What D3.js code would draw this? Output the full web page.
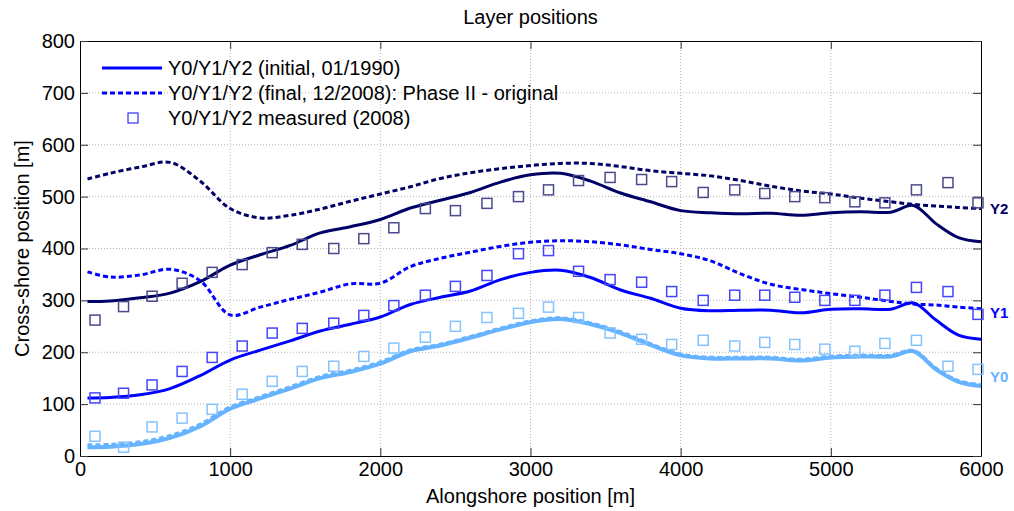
<script src="https://d3js.org/d3.v7.min.js"></script>
<style>
  body { margin: 0; background: #fff; }
  text { font-family: "Liberation Sans", Arial, sans-serif; }
</style>
<div id="chart"></div>
<script>

// alongshore positions of the model output [m]
var xs = [50, 200, 400, 600, 800, 1000, 1200, 1400, 1600, 1800, 2000, 2200, 2400, 2600, 2800, 3000,
          3200, 3400, 3600, 3800, 4000, 4200, 4400, 4600, 4800, 5000, 5200, 5400, 5550, 5700, 5850, 6000];

var y2Initial = [298, 299, 305, 314, 336, 368, 388, 406, 430, 442, 456, 478, 493, 508, 528, 542,
                 545, 530, 507, 490, 473, 469, 467, 468, 464, 469, 471, 470, 483, 448, 421, 413];
var y2Final   = [534, 545, 557, 566, 530, 477, 459, 464, 476, 491, 505, 519, 535, 546, 554, 560,
                 564, 564, 558, 550, 545, 540, 531, 520, 511, 505, 497, 490, 485, 482, 479, 477];
var y1Initial = [112, 113, 118, 130, 155, 185, 204, 222, 241, 254, 268, 292, 306, 318, 340, 354,
                 358, 344, 320, 304, 285, 280, 281, 281, 276, 283, 284, 283, 295, 262, 233, 225];
var y1Final   = [355, 345, 349, 360, 338, 272, 287, 302, 316, 332, 333, 365, 381, 393, 404, 412,
                 415, 413, 407, 398, 390, 376, 351, 331, 321, 313, 306, 298, 293, 291, 287, 284];
var y0Initial = [17, 18, 23, 35, 57, 91, 111, 130, 150, 162, 178, 202, 213, 228, 244, 258,
                 264, 254, 237, 214, 194, 188, 188, 188, 184, 190, 192, 192, 202, 167, 143, 135];
var y0Final   = [21, 22, 27, 39, 61, 94, 114, 133, 153, 165, 181, 204, 215, 230, 246, 260,
                 266, 256, 239, 216, 196, 190, 190, 190, 186, 192, 194, 194, 203, 169, 145, 137];

// measured positions (2008)
var mx = [100, 290, 480, 680, 880, 1080, 1280, 1480, 1690, 1890, 2090, 2300, 2500, 2710, 2920,
          3120, 3320, 3530, 3740, 3940, 4150, 4360, 4560, 4760, 4960, 5160, 5360, 5570, 5780, 5980];
var y2Measured = [262, 288, 308, 333, 354, 369, 392, 408, 400, 419, 440, 477, 473, 487, 500,
                  513, 531, 537, 533, 529, 508, 513, 506, 500, 498, 490, 488, 513, 527, 488];
var y1Measured = [112, 121, 137, 163, 190, 212, 237, 246, 256, 271, 290, 310, 327, 348, 390,
                  396, 356, 340, 335, 317, 300, 310, 310, 306, 300, 300, 310, 325, 317, 273];
var y0Measured = [38, 17, 56, 73, 90, 119, 144, 163, 173, 192, 208, 229, 250, 267, 275,
                  287, 267, 237, 225, 215, 223, 212, 219, 215, 206, 202, 217, 223, 173, 167];

var xTicks = [0, 1000, 2000, 3000, 4000, 5000, 6000];
var yTicks = [0, 100, 200, 300, 400, 500, 600, 700, 800];

var layerNames = ["Y0", "Y1", "Y2"];
var labelY = [152, 277, 477];   // where the layer names sit on the right
var legendLabels = ["Y0/Y1/Y2 (initial, 01/1990)",
                    "Y0/Y1/Y2 (final, 12/2008): Phase II - original",
                    "Y0/Y1/Y2 measured (2008)"];

var lineColors = ["#66b3ff", "#0000ff", "#000066"];
var markColors = ["#85c3ff", "#4545ff", "#4a4a8c"];

var margin = {top: 41, right: 33, bottom: 55, left: 80},
    width = 1014 - margin.left - margin.right,
    height = 511 - margin.top - margin.bottom;

var svg = d3.select("#chart")
  .append("svg")
    .attr("width", 1014)
    .attr("height", 511)
  .append("g")
    .attr("transform", "translate(" + margin.left + "," + margin.top + ")");

var x = d3.scaleLinear().domain([0, 6000]).range([0, width]);
var y = d3.scaleLinear().domain([0, 800]).range([height, 0]);

// grid
svg.append("g")
  .selectAll("line")
  .data(xTicks.slice(1, -1))
  .enter().append("line")
    .attr("x1", function(d) { return x(d); })
    .attr("x2", function(d) { return x(d); })
    .attr("y1", 0).attr("y2", height)
    .attr("stroke", "#b4b4b4")
    .attr("stroke-dasharray", "1,2");

svg.append("g")
  .selectAll("line")
  .data(yTicks.slice(1, -1))
  .enter().append("line")
    .attr("y1", function(d) { return y(d); })
    .attr("y2", function(d) { return y(d); })
    .attr("x1", 0).attr("x2", width)
    .attr("stroke", "#b4b4b4")
    .attr("stroke-dasharray", "1,2");

// axes, ticks inward on all four sides
var xAxis = svg.append("g")
  .attr("transform", "translate(0," + height + ")")
  .call(d3.axisBottom(x).tickValues(xTicks).tickFormat(d3.format("d"))
    .tickSizeInner(-8).tickSizeOuter(0).tickPadding(6));
var xTop = svg.append("g")
  .call(d3.axisTop(x).tickValues(xTicks).tickSizeInner(-8).tickSizeOuter(0).tickFormat(""));
var yAxis = svg.append("g")
  .call(d3.axisLeft(y).tickValues(yTicks).tickSizeInner(-8).tickSizeOuter(0).tickPadding(5));
var yRight = svg.append("g")
  .attr("transform", "translate(" + width + ",0)")
  .call(d3.axisRight(y).tickValues(yTicks).tickSizeInner(-8).tickSizeOuter(0).tickFormat(""));

[xAxis, xTop, yAxis, yRight].forEach(function(a) {
  a.select(".domain").attr("stroke", "#000");
  a.selectAll(".tick line").attr("stroke", "#333");
  a.selectAll("text")
    .style("font-size", "20px")
    .attr("fill", "#000");
});

// titles
svg.append("text")
  .attr("x", width / 2)
  .attr("y", -17)
  .attr("text-anchor", "middle")
  .style("font-size", "20px")
  .text("Layer positions");

svg.append("text")
  .attr("x", width / 2)
  .attr("y", height + 47)
  .attr("text-anchor", "middle")
  .style("font-size", "20px")
  .text("Alongshore position [m]");

svg.append("text")
  .attr("transform", "rotate(-90)")
  .attr("x", -height / 2)
  .attr("y", -51)
  .attr("text-anchor", "middle")
  .style("font-size", "20px")
  .text("Cross-shore position [m]");

// curves
var line = d3.line()
  .x(function(d) { return x(d[0]); })
  .y(function(d) { return y(d[1]); })
  .curve(d3.curveCatmullRom.alpha(0.5));

var initial = [y0Initial, y1Initial, y2Initial];
var finals = [y0Final, y1Final, y2Final];
var measured = [y0Measured, y1Measured, y2Measured];

initial.forEach(function(vals, i) {
  svg.append("path")
    .datum(xs.map(function(d, j) { return [d, vals[j]]; }))
    .attr("fill", "none")
    .attr("stroke", lineColors[i])
    .attr("stroke-width", i == 0 ? 4 : 3)
    .attr("d", line);
});

finals.forEach(function(vals, i) {
  svg.append("path")
    .datum(xs.map(function(d, j) { return [d, vals[j]]; }))
    .attr("fill", "none")
    .attr("stroke", lineColors[i])
    .attr("stroke-width", i == 0 ? 3.5 : 3)
    .attr("stroke-dasharray", "5,3")
    .attr("d", line);
});

measured.forEach(function(vals, i) {
  svg.append("g")
    .selectAll("rect")
    .data(mx.map(function(d, j) { return [d, vals[j]]; }))
    .enter().append("rect")
      .attr("x", function(d) { return x(d[0]) - 5; })
      .attr("y", function(d) { return y(d[1]) - 5; })
      .attr("width", 10)
      .attr("height", 10)
      .attr("fill", "none")
      .attr("stroke", markColors[i])
      .attr("stroke-width", 1.5);
});

// layer names at the right edge
svg.append("g")
  .selectAll("text")
  .data(layerNames)
  .enter().append("text")
    .attr("x", width + 9)
    .attr("y", function(d, i) { return y(labelY[i]); })
    .attr("dy", "0.35em")
    .attr("fill", function(d, i) { return lineColors[i]; })
    .style("font-size", "15px")
    .style("font-weight", "bold")
    .text(function(d) { return d; });

// legend
var legend = svg.append("g").attr("transform", "translate(22,27)");

legend.append("line")
  .attr("x1", 0).attr("x2", 60).attr("y1", 0).attr("y2", 0)
  .attr("stroke", "#0000ff").attr("stroke-width", 3);
legend.append("line")
  .attr("x1", 0).attr("x2", 60).attr("y1", 25).attr("y2", 25)
  .attr("stroke", "#0000ff").attr("stroke-width", 3)
  .attr("stroke-dasharray", "5,3");
legend.append("rect")
  .attr("x", 26).attr("y", 45).attr("width", 10).attr("height", 10)
  .attr("fill", "none").attr("stroke", "#3333ff").attr("stroke-width", 1.2);

legend.selectAll("text.lab")
  .data(legendLabels)
  .enter().append("text")
    .attr("class", "lab")
    .attr("x", 66)
    .attr("y", function(d, i) { return i * 25; })
    .attr("dy", "0.35em")
    .style("font-size", "20px")
    .text(function(d) { return d; });

</script>
